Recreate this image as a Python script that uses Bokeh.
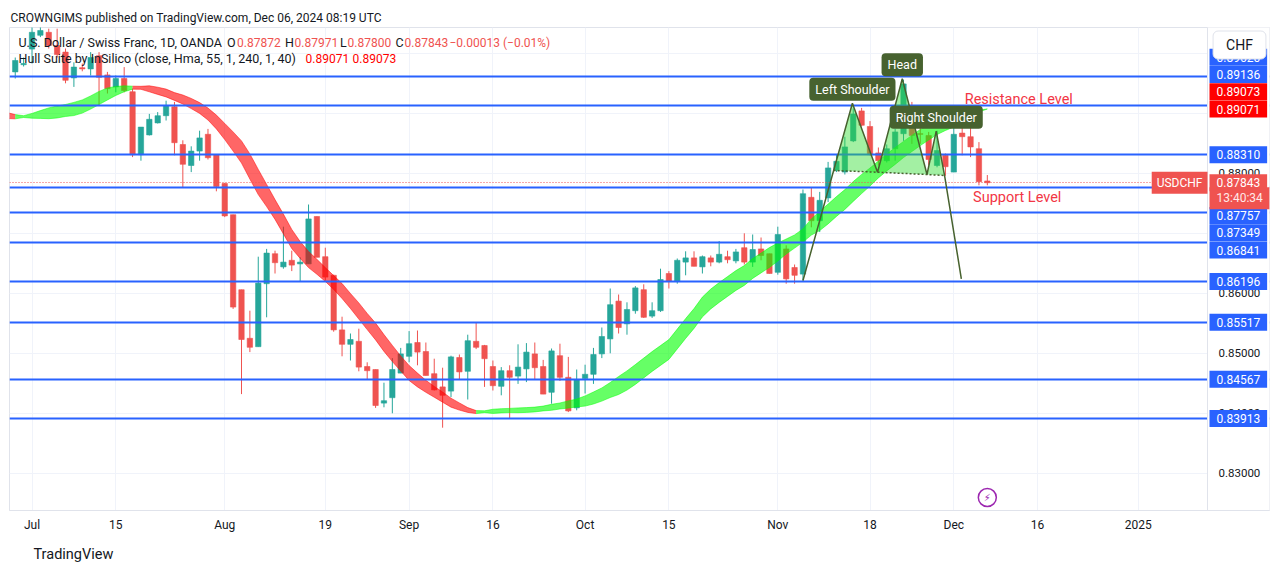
import numpy as np
import pandas as pd
from bokeh.plotting import figure
from bokeh.models import Range1d, FixedTicker, Label, Title, Grid
from bokeh.core.properties import value
from bokeh.embed import file_html
from bokeh.resources import INLINE

# ---------------- data ----------------
bars_first, bars_last = "2024-06-27", "2024-12-06"
opens = [0.8969, 0.8981, 0.9007, 0.9030, 0.9035, 0.9013, 0.9002, 0.8959, 0.8976, 0.8974,
         0.8996, 0.8964, 0.8944, 0.8958, 0.8936, 0.8831, 0.8864, 0.8884, 0.8896, 0.8911,
         0.8848, 0.8813, 0.8837, 0.8865, 0.8831, 0.8783, 0.8731, 0.8606, 0.8525, 0.8511,
         0.8616, 0.8666, 0.8644, 0.8655, 0.8649, 0.8649, 0.8728, 0.8661, 0.8630, 0.8539,
         0.8515, 0.8520, 0.8478, 0.8473, 0.8417, 0.8426, 0.8467, 0.8495, 0.8518, 0.8503,
         0.8466, 0.8444, 0.8437, 0.8493, 0.8470, 0.8520, 0.8513, 0.8478, 0.8445, 0.8471,
         0.8462, 0.8474, 0.8499, 0.8478, 0.8435, 0.8496, 0.8460, 0.8409, 0.8458, 0.8465,
         0.8499, 0.8524, 0.8587, 0.8549, 0.8571, 0.8606, 0.8562, 0.8571, 0.8633, 0.8620,
         0.8652, 0.8659, 0.8644, 0.8659, 0.8652, 0.8661, 0.8654, 0.8676, 0.8652, 0.8674,
         0.8666, 0.8635, 0.8674, 0.8643, 0.8632, 0.8760, 0.8721, 0.8759, 0.8805, 0.8802,
         0.8854, 0.8904, 0.8878, 0.8834, 0.8821, 0.8841, 0.8866, 0.8905, 0.8866, 0.8863,
         0.8813, 0.8830, 0.8802, 0.8867, 0.8861, 0.8841, 0.87872]
highs = [0.8993, 0.8993, 0.9045, 0.9045, 0.9041, 0.9041, 0.9008, 0.8985, 0.8983, 0.9002,
         0.9002, 0.8969, 0.8963, 0.8977, 0.8941, 0.8877, 0.8899, 0.8902, 0.8921, 0.8919,
         0.8855, 0.8845, 0.8871, 0.8874, 0.8831, 0.8784, 0.8731, 0.8606, 0.8571, 0.8661,
         0.8674, 0.8671, 0.8711, 0.8671, 0.8660, 0.8748, 0.8728, 0.8676, 0.8631, 0.8561,
         0.8533, 0.8541, 0.8485, 0.8473, 0.8451, 0.8492, 0.8509, 0.8537, 0.8538, 0.8518,
         0.8491, 0.8476, 0.8496, 0.8498, 0.8531, 0.8552, 0.8514, 0.8488, 0.8477, 0.8480,
         0.8515, 0.8517, 0.8518, 0.8489, 0.8508, 0.8516, 0.8494, 0.8473, 0.8481, 0.8509,
         0.8543, 0.8608, 0.8598, 0.8585, 0.8612, 0.8615, 0.8585, 0.8641, 0.8637, 0.8658,
         0.8670, 0.8670, 0.8663, 0.8663, 0.8687, 0.8671, 0.8674, 0.8700, 0.8698, 0.8693,
         0.8666, 0.8711, 0.8680, 0.8648, 0.8773, 0.8776, 0.8769, 0.8819, 0.8831, 0.8861,
         0.8908, 0.8909, 0.8887, 0.8843, 0.8848, 0.8874, 0.8956, 0.8919, 0.8893, 0.8869,
         0.8871, 0.8833, 0.8885, 0.8899, 0.8880, 0.8852, 0.87971]
lows = [0.8958, 0.8978, 0.8983, 0.9027, 0.9008, 0.8993, 0.8950, 0.8944, 0.8970, 0.8963,
        0.8913, 0.8933, 0.8935, 0.8935, 0.8827, 0.8821, 0.8863, 0.8883, 0.8888, 0.8830,
        0.8777, 0.8802, 0.8821, 0.8823, 0.8770, 0.8727, 0.8574, 0.8432, 0.8502, 0.8511,
        0.8560, 0.8633, 0.8641, 0.8637, 0.8619, 0.8649, 0.8660, 0.8621, 0.8536, 0.8495,
        0.8488, 0.8470, 0.8456, 0.8409, 0.8410, 0.8400, 0.8467, 0.8485, 0.8480, 0.8463,
        0.8438, 0.8376, 0.8427, 0.8457, 0.8423, 0.8507, 0.8444, 0.8438, 0.8430, 0.8391,
        0.8449, 0.8452, 0.8457, 0.8432, 0.8416, 0.8454, 0.8402, 0.8405, 0.8433, 0.8449,
        0.8492, 0.8500, 0.8533, 0.8531, 0.8566, 0.8559, 0.8559, 0.8569, 0.8608, 0.8616,
        0.8630, 0.8645, 0.8633, 0.8645, 0.8650, 0.8650, 0.8650, 0.8648, 0.8644, 0.8655,
        0.8633, 0.8631, 0.8616, 0.8616, 0.8621, 0.8710, 0.8702, 0.8752, 0.8802, 0.8798,
        0.8852, 0.8878, 0.8830, 0.8813, 0.8818, 0.8821, 0.8854, 0.8849, 0.8849, 0.8814,
        0.8810, 0.8796, 0.8802, 0.8830, 0.8827, 0.8780, 0.87800]
closes = [0.8988, 0.8983, 0.9035, 0.9038, 0.9013, 0.8998, 0.8955, 0.8977, 0.8974, 0.8993,
          0.8960, 0.8941, 0.8958, 0.8938, 0.8831, 0.8877, 0.8890, 0.8896, 0.8913, 0.8851,
          0.8815, 0.8837, 0.8859, 0.8826, 0.8778, 0.8729, 0.8577, 0.8523, 0.8510, 0.8617,
          0.8667, 0.8651, 0.8652, 0.8647, 0.8652, 0.8724, 0.8660, 0.8627, 0.8539, 0.8515,
          0.8523, 0.8477, 0.8471, 0.8413, 0.8421, 0.8473, 0.8499, 0.8516, 0.8502, 0.8463,
          0.8439, 0.8430, 0.8494, 0.8469, 0.8521, 0.8510, 0.8491, 0.8446, 0.8471, 0.8460,
          0.8477, 0.8502, 0.8476, 0.8432, 0.8504, 0.8460, 0.8404, 0.8456, 0.8465, 0.8498,
          0.8528, 0.8581, 0.8543, 0.8573, 0.8609, 0.8560, 0.8571, 0.8623, 0.8620, 0.8655,
          0.8659, 0.8645, 0.8661, 0.8652, 0.8665, 0.8656, 0.8669, 0.8652, 0.8673, 0.8663,
          0.8633, 0.8698, 0.8624, 0.8630, 0.8766, 0.8721, 0.8755, 0.8809, 0.8820, 0.8844,
          0.8899, 0.8880, 0.8831, 0.8821, 0.8841, 0.8869, 0.8949, 0.8863, 0.8865, 0.8823,
          0.8838, 0.8811, 0.8865, 0.8861, 0.8844, 0.8786, 0.87843]

hull_first = "2024-06-24"
hull_mid = [0.89005, 0.88983, 0.88963, 0.88943, 0.88945, 0.88958, 0.88980, 0.89000, 0.89022, 0.89047,
            0.89072, 0.89113, 0.89180, 0.89255, 0.89322, 0.89372, 0.89408, 0.89427, 0.89425, 0.89408,
            0.89375, 0.89338, 0.89280, 0.89230, 0.89163, 0.89088, 0.88988, 0.88855, 0.88697, 0.88530,
            0.88355, 0.88113, 0.87855, 0.87630, 0.87397, 0.87155, 0.86905, 0.86722, 0.86563, 0.86442,
            0.86313, 0.86180, 0.86038, 0.85872, 0.85705, 0.85530, 0.85363, 0.85172, 0.84997, 0.84830,
            0.84672, 0.84555, 0.84450, 0.84358, 0.84270, 0.84177, 0.84113, 0.84055, 0.84020, 0.84026,
            0.84033, 0.84042, 0.84047, 0.84050, 0.84055, 0.84063, 0.84080, 0.84100, 0.84122, 0.84147,
            0.84172, 0.84205, 0.84255, 0.84313, 0.84388, 0.84463, 0.84547, 0.84647, 0.84755, 0.84863,
            0.84963, 0.85063, 0.85238, 0.85413, 0.85580, 0.85772, 0.85905, 0.86013, 0.86113, 0.86213,
            0.86297, 0.86413, 0.86505, 0.86597, 0.86688, 0.86780, 0.86863, 0.86963, 0.87105, 0.87205,
            0.87322, 0.87447, 0.87563, 0.87697, 0.87822, 0.87938, 0.88063, 0.88180, 0.88288, 0.88397,
            0.88497, 0.88597, 0.88680, 0.88755, 0.88813, 0.88872, 0.88930, 0.88988, 0.89038, 0.89072]
hull_width = [0.0012, 0.0010, 0.0010, 0.0007, 0.0003, 0.0008, 0.0013, 0.0018, 0.0020, 0.0020,
              0.0022, 0.0022, 0.0022, 0.0022, 0.0020, 0.0015, 0.0010, 0.0005, 0.0005, 0.0010,
              0.0012, 0.0013, 0.0013, 0.0015, 0.0017, 0.0018, 0.0020, 0.0023, 0.0027, 0.0032,
              0.0037, 0.0042, 0.0042, 0.0037, 0.0033, 0.0033, 0.0032, 0.0028, 0.0027, 0.0025,
              0.0023, 0.0023, 0.0025, 0.0025, 0.0027, 0.0027, 0.0028, 0.0028, 0.0027, 0.0025,
              0.0025, 0.0023, 0.0020, 0.0018, 0.0017, 0.0015, 0.0012, 0.0008, 0.0005, 0.0003,
              0.0007, 0.0007, 0.0007, 0.0008, 0.0008, 0.0008, 0.0008, 0.0010, 0.0010, 0.0012,
              0.0013, 0.0017, 0.0020, 0.0022, 0.0025, 0.0030, 0.0032, 0.0033, 0.0033, 0.0033,
              0.0033, 0.0033, 0.0033, 0.0033, 0.0033, 0.0033, 0.0033, 0.0033, 0.0033, 0.0033,
              0.0033, 0.0033, 0.0033, 0.0033, 0.0030, 0.0025, 0.0022, 0.0022, 0.0027, 0.0032,
              0.0033, 0.0033, 0.0033, 0.0033, 0.0032, 0.0030, 0.0028, 0.0028, 0.0028, 0.0027,
              0.0027, 0.0027, 0.0025, 0.0022, 0.0020, 0.0020, 0.0015, 0.0008, 0.0003, 0.00002]
hull_legend = [0.89071, 0.89073]
last_change, last_change_pct = -0.00013, -0.01
countdown = "13:40:34"

level_prices = [0.89620, 0.89136, 0.88310, 0.87757, 0.87349, 0.86841, 0.86196, 0.85517, 0.84567, 0.83913]
price_ticks = [0.83, 0.84, 0.85, 0.86, 0.87, 0.88, 0.89, 0.90]
tick_dates = ["2024-07-01", "2024-07-15", "2024-08-01", "2024-08-19", "2024-09-02", "2024-09-16",
              "2024-10-01", "2024-10-15", "2024-11-01", "2024-11-18", "2024-12-02", "2024-12-16", "2025-01-01"]
tick_labels = ["Jul", "15", "Aug", "19", "Sep", "16", "Oct", "15", "Nov", "18", "Dec", "16", "2025"]

# head & shoulders drawing: points in (bar index from Jul 1, price)
hs_bar = [92.0, 97.9, 100.9, 103.85, 106.8, 107.9, 108.9, 110.9]
hs_price = [0.86213, 0.89168, 0.88018, 0.89575, 0.87980, 0.88702, 0.87963, 0.86242]
hs_neck_start = (95.66, 0.88047)
hs_names = ["Left Shoulder", "Head", "Right Shoulder"]
resistance_note = (111.3, 0.89230)
support_note = (112.3, 0.87602)

# ---------------- layout constants (page pixels) ----------------
ORIGIN = np.datetime64("2024-07-01")
FRAME_L, FRAME_R, FRAME_T, FRAME_B = 9, 1269, 27, 510
SCALE_L = 1207                     # left edge of the price scale strip
BAR0_PX, BAR_PX = 31.5, 8.38
X0 = (FRAME_L - BAR0_PX) / BAR_PX
X1 = (FRAME_R - BAR0_PX) / BAR_PX
Y_TOP, Y_BOT = 0.9043, 0.8238
W, H = 1281, 573

FONT = "Roboto"
TXT = "#131722"
UP, DOWN = "#26A69A", "#EF5350"
BLUE = "#2962FF"
HS_COL = "#47622F"
BORDER = "#E0E3EB"
BOX_PAD = dict(left=7, right=7, top=4, bottom=4)


def px_to_x(px):
    return X0 + (px - FRAME_L) * (X1 - X0) / (FRAME_R - FRAME_L)


def py_to_val(py):
    return Y_TOP - (py - FRAME_T) * (Y_TOP - Y_BOT) / (FRAME_B - FRAME_T)


def val_to_py(v):
    return FRAME_T + (Y_TOP - v) * (FRAME_B - FRAME_T) / (Y_TOP - Y_BOT)


def bar_index(dates):
    d = np.asarray(pd.DatetimeIndex(dates).values.astype("datetime64[D]"))
    return np.busday_count(ORIGIN, d)


p = figure(width=W, height=H, x_range=Range1d(X0, X1), y_range=Range1d(Y_BOT, Y_TOP),
           y_axis_location=None, toolbar_location=None, output_backend="svg",
           min_border_left=FRAME_L, min_border_right=W - FRAME_R,
           min_border_top=FRAME_T, min_border_bottom=H - FRAME_B,
           background_fill_color="white", border_fill_color="white",
           title="CROWNGIMS published on TradingView.com, Dec 06, 2024 08:19 UTC")
p.outline_line_color = BORDER
p.title.align = "left"
p.title.offset = 1
p.title.standoff = 6
p.title.text_font = FONT
p.title.text_font_size = "12px"
p.title.text_font_style = "normal"
p.title.text_color = TXT

# time axis
tick_x = [int(v) for v in bar_index(tick_dates)]
p.xaxis.ticker = FixedTicker(ticks=tick_x)
p.xaxis.major_label_overrides = {t: lab for t, lab in zip(tick_x, tick_labels)}
p.xaxis.major_tick_line_color = None
p.xaxis.major_tick_out = 0
p.xaxis.major_tick_in = 0
p.xaxis.minor_tick_line_color = None
p.xaxis.axis_line_color = BORDER
p.xaxis.major_label_text_font = FONT
p.xaxis.major_label_text_color = TXT
p.xaxis.major_label_text_font_size = "12px"
p.xaxis.major_label_standoff = 7
p.xgrid.grid_line_color = "#F0F3FA"
p.add_layout(Grid(dimension=1, ticker=FixedTicker(ticks=price_ticks), grid_line_color="#F0F3FA"))
p.add_layout(Title(text="TradingView", align="left", offset=24, standoff=18,
                   text_font=FONT, text_font_size="14.5px", text_font_style="normal",
                   text_color=TXT), "below")

# candles
cx = bar_index(pd.bdate_range(bars_first, bars_last))
o, h, l, c = map(np.array, (opens, highs, lows, closes))
cols = np.where(c >= o, UP, DOWN).tolist()
p.segment(x0=cx, y0=l, x1=cx, y1=h, line_color=cols, line_width=1)
p.vbar(x=cx, width=0.64, top=np.maximum(o, c), bottom=np.minimum(o, c),
       fill_color=cols, line_color=cols, line_width=0.6)

# hull band
hx = bar_index(pd.bdate_range(hull_first, bars_last))
mid = np.array(hull_mid)
wd = np.array(hull_width)
upper, lower = mid + wd / 2, mid - wd / 2
rising = np.r_[False, mid[1:] > mid[:-1]]
n = len(mid)
pxs, pys, pcs, lxs, lys, lcs = [], [], [], [], [], []
k = 1
while k < n:
    j = k
    while j + 1 < n and rising[j + 1] == rising[k]:
        j += 1
    col = "#00FF00" if rising[k] else "#FF0000"
    seg = slice(k - 1, j + 1)
    xs = list(hx[seg])
    pxs.append(xs + xs[::-1])
    pys.append(list(upper[seg]) + list(lower[seg])[::-1])
    pcs.append(col)
    lxs += [xs, xs]
    lys += [list(upper[seg]), list(lower[seg])]
    lcs += [col, col]
    k = j + 1
p.patches(xs=pxs, ys=pys, fill_color=pcs, fill_alpha=0.6, line_color=None)
p.multi_line(xs=lxs, ys=lys, line_color=lcs, line_alpha=0.5, line_width=1)

# horizontal levels and current price line
p.hspan(y=level_prices, line_color=BLUE, line_width=2)
p.hspan(y=[closes[-1]], line_color=DOWN, line_width=1, line_dash="1 2")

# head & shoulders pattern
tri_x = [[hs_neck_start[0], hs_bar[1], hs_bar[2]], [hs_bar[2], hs_bar[3], hs_bar[4]],
         [hs_bar[4], hs_bar[5], hs_bar[6]]]
tri_y = [[hs_neck_start[1], hs_price[1], hs_price[2]], [hs_price[2], hs_price[3], hs_price[4]],
         [hs_price[4], hs_price[5], hs_price[6]]]
p.patches(xs=tri_x, ys=tri_y, fill_color="#33DD33", fill_alpha=0.45, line_color=None)
p.line([hs_neck_start[0], hs_bar[2], hs_bar[4], hs_bar[6]],
       [hs_neck_start[1], hs_price[2], hs_price[4], hs_price[6]],
       line_color=HS_COL, line_width=1.5, line_dash="2 2")
p.line(hs_bar, hs_price, line_color=HS_COL, line_width=1.5)
for name, idx in zip(hs_names, (1, 3, 5)):
    p.add_layout(Label(x=hs_bar[idx], y=hs_price[idx], y_offset=14, text=name,
                       text_align="center", text_baseline="middle", text_color="white",
                       text_font=FONT, text_font_size="12.5px", background_fill_color=HS_COL,
                       border_radius=4, padding=dict(left=6, right=6, top=4, bottom=4)))

p.add_layout(Label(x=resistance_note[0], y=resistance_note[1], text="Resistance Level",
                   text_align="left", text_baseline="middle", text_color="#F23645",
                   text_font=FONT, text_font_size="14.5px"))
p.add_layout(Label(x=support_note[0], y=support_note[1], text="Support Level",
                   text_align="left", text_baseline="middle", text_color="#F23645",
                   text_font=FONT, text_font_size="14.5px"))

# event icon under last bar
icon_y = py_to_val(FRAME_B - 13)
p.scatter(x=[cx[-1]], y=[icon_y], size=18, marker="circle", fill_color="white",
          line_color="#9C27B0", line_width=1.5)
p.text(x=[cx[-1]], y=[icon_y], text=["\u26A1"], text_align="center", text_baseline="middle",
       text_font=value("DejaVu Sans"), text_font_size="10px", text_color="#9C27B0")

# price scale strip
p.quad(left=[px_to_x(SCALE_L)], right=[X1 + 1], top=[Y_TOP + 0.01], bottom=[Y_BOT - 0.01],
       fill_color="white", line_color=None)
p.vspan(x=[px_to_x(SCALE_L)], line_color=BORDER, line_width=1)
p.text(x=[px_to_x(1218)] * len(price_ticks), y=price_ticks,
       text=[f"{t:.5f}" for t in price_ticks], text_align="left", text_baseline="middle",
       text_font=value(FONT), text_font_size="11.5px", text_color=TXT)


# legend (top-left)
def put(px, py, text, color=TXT, size="12px", align="left"):
    p.add_layout(Label(x=px_to_x(px), y=py_to_val(py), text=text, text_align=align,
                       text_baseline="middle", text_color=color, text_font=FONT,
                       text_font_size=size))


put(18, 42, "U.S. Dollar / Swiss Franc, 1D, OANDA", size="12.5px")
leg_col = DOWN if closes[-1] < opens[-1] else UP
for lx, key, vx, val in ((226.5, "O", 236.5, opens[-1]), (284.5, "H", 294, highs[-1]),
                         (339.5, "L", 347, lows[-1]), (395, "C", 404, closes[-1])):
    put(lx, 42, key, size="12.5px")
    put(vx, 42, f"{val:.5f}", color=leg_col)
put(449, 42, f"\u2212{abs(last_change):.5f} (\u2212{abs(last_change_pct):.2f}%)", color=leg_col)
put(18, 58, "Hull Suite by InSilico (close, Hma, 55, 1, 240, 1, 40)", size="12.5px")
put(305, 58, f"{hull_legend[0]:.5f}", color="#FF0000")
put(352, 58, f"{hull_legend[1]:.5f}", color="#FF0000")

# price scale labels with TradingView-like stacking
HALF = 8.65
items = [dict(v=v, text=f"{v:.5f}", bg=BLUE, up=HALF, down=HALF) for v in level_prices]
items += [dict(v=v, text=f"{v:.5f}", bg="#FF0000", up=HALF, down=HALF) for v in hull_legend]
price = dict(v=closes[-1], text=f"{closes[-1]:.5f}", bg=DOWN, up=HALF, down=HALF + 15.5)
for it in items + [price]:
    it["py"] = val_to_py(it["v"])
price["disp"] = price["py"]
above = sorted([it for it in items if it["py"] <= price["py"]], key=lambda d: -d["py"])
limit = price["disp"] - price["up"]
for it in above:
    it["disp"] = min(it["py"], limit - it["down"])
    limit = it["disp"] - it["up"]
below = sorted([it for it in items if it["py"] > price["py"]], key=lambda d: d["py"])
limit = price["disp"] + price["down"]
for it in below:
    it["disp"] = max(it["py"], limit + it["up"])
    limit = it["disp"] + it["down"]

LBL_X = px_to_x(1209)
for it in items + [price]:
    p.add_layout(Label(x=LBL_X, y=py_to_val(it["disp"]), text=it["text"], text_align="left",
                       text_baseline="middle", text_color="white", text_font=FONT,
                       text_font_size="12px", background_fill_color=it["bg"], padding=BOX_PAD))
p.add_layout(Label(x=LBL_X, y=py_to_val(price["disp"] + 15.5), text=countdown, text_align="left",
                   text_baseline="middle", text_color="#FFE8E8", text_font=FONT,
                   text_font_size="12px", background_fill_color=DOWN, padding=BOX_PAD))
p.add_layout(Label(x=px_to_x(SCALE_L), y=closes[-1], text="USDCHF", text_align="right",
                   text_baseline="middle", text_color="white", text_font=FONT,
                   text_font_size="12px", background_fill_color=DOWN,
                   padding=dict(left=5, right=5, top=4, bottom=4)))
p.add_layout(Label(x=px_to_x(1239), y=py_to_val(44.5), text="CHF", text_align="center",
                   text_baseline="middle", text_color=TXT, text_font=FONT, text_font_size="14px",
                   background_fill_color="white", border_line_color=BORDER, border_radius=5,
                   padding=dict(left=13, right=13, top=6, bottom=6)))

open("out.html", "w").write(file_html(p, INLINE))
